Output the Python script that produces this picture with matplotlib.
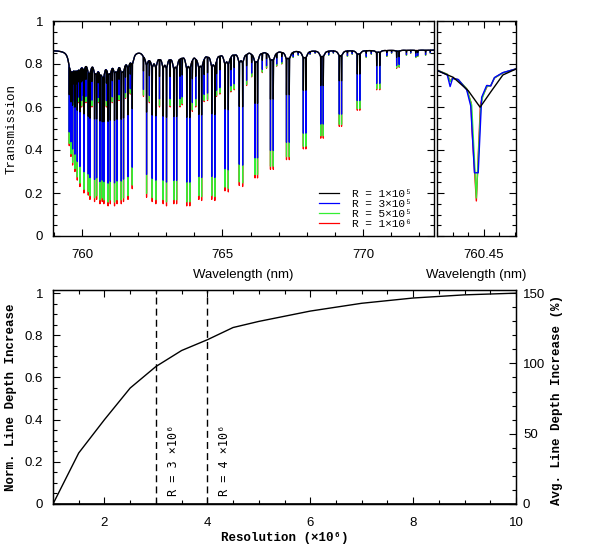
import numpy as np
import matplotlib
matplotlib.use('Agg')
import matplotlib.pyplot as plt
from matplotlib.ticker import MultipleLocator, FuncFormatter, FixedLocator

# ----------------------------
# Data
# ----------------------------
continuum = 0.865

# R branch: line centre (nm), minimum transmission at R = 1e6
rbranch_wl = [759.549, 759.580, 759.609, 759.640, 759.668, 759.710, 759.751, 759.790,
              759.834, 759.880, 759.929, 759.988, 760.030, 760.071, 760.142, 760.225,
              760.285, 760.356, 760.449, 760.522, 760.581, 760.641, 760.724, 760.780,
              760.870, 760.930, 761.010, 761.080, 761.160, 761.250, 761.320, 761.400,
              761.480, 761.550, 761.640, 761.720, 761.790]
rbranch_tmin = [0.42, 0.47, 0.37, 0.56, 0.33, 0.60, 0.30, 0.60,
                0.26, 0.62, 0.23, 0.60, 0.63, 0.20, 0.62, 0.19,
                0.17, 0.60, 0.16, 0.17, 0.62, 0.15, 0.16, 0.15,
                0.60, 0.14, 0.15, 0.62, 0.14, 0.15, 0.63, 0.15,
                0.16, 0.64, 0.17, 0.66, 0.22]

# P branch: line centre (nm), minimum transmission at R = 1e6
pbranch_wl = [762.19, 762.30, 762.40, 762.50, 762.63, 762.76, 762.89, 763.01, 763.14,
              763.27, 763.37, 763.49, 763.57, 763.73, 763.84, 763.93, 764.05, 764.16,
              764.26, 764.35, 764.47, 764.62, 764.73, 764.79, 764.91, 765.09, 765.21,
              765.30, 765.42, 765.60, 765.72, 765.86, 766.04, 766.16, 766.25, 766.42,
              766.57, 766.71, 766.81, 766.93, 767.11, 767.28, 767.38, 767.52, 767.70,
              767.88, 767.97, 768.12, 768.30, 768.50, 768.59, 768.78, 768.95, 769.16,
              769.24, 769.45, 769.62, 769.80, 769.89, 770.12, 770.30, 770.49, 770.60,
              770.85, 771.02, 771.20, 771.29, 771.55, 771.70, 771.88, 771.95, 772.23,
              772.40]
pbranch_tmin = [0.65, 0.18, 0.62, 0.16, 0.15, 0.60, 0.15, 0.14, 0.60,
                0.15, 0.15, 0.60, 0.61, 0.14, 0.14, 0.58, 0.60, 0.17,
                0.165, 0.625, 0.63, 0.17, 0.165, 0.65, 0.66, 0.21, 0.205,
                0.67, 0.68, 0.235, 0.23, 0.70, 0.74, 0.27, 0.27, 0.76,
                0.78, 0.31, 0.31, 0.79, 0.80, 0.355, 0.355, 0.83, 0.84,
                0.405, 0.405, 0.845, 0.85, 0.455, 0.455, 0.84, 0.85, 0.51,
                0.51, 0.835, 0.845, 0.585, 0.585, 0.83, 0.845, 0.68, 0.68,
                0.835, 0.85, 0.78, 0.785, 0.84, 0.85, 0.83, 0.835, 0.84,
                0.85]

resolutions = [1e5, 3e5, 5e5, 1e6]
res_labels = ['R = 1×10⁵', 'R = 3×10⁵', 'R = 5×10⁵', 'R = 1×10⁶']
res_colors = ['black', '#0000ff', '#33ee33', '#ff0000']

# zoom on the 760.45 nm line, sampled spectra per resolution
zoom_wl_1e5 = [760.4340, 760.4402, 760.4450, 760.4488, 760.4523, 760.4561, 760.4605]
zoom_t_1e5 = [0.776, 0.738, 0.676, 0.599, 0.672, 0.749, 0.778]
zoom_wl_3e5 = [760.4340, 760.4383, 760.4392, 760.4400, 760.4418, 760.4445, 760.4458,
               760.4470, 760.4482, 760.4493, 760.4509, 760.4522, 760.4534, 760.4561, 760.4605]
zoom_t_3e5 = [0.778, 0.749, 0.695, 0.733, 0.728, 0.680, 0.605,
              0.294, 0.294, 0.645, 0.700, 0.698, 0.737, 0.760, 0.778]
zoom_wl_5e5 = [760.4340, 760.4383, 760.4392, 760.4400, 760.4418, 760.4445, 760.4461,
               760.4476, 760.4490, 760.4496, 760.4509, 760.4522, 760.4534, 760.4561, 760.4605]
zoom_t_5e5 = [0.778, 0.752, 0.718, 0.733, 0.727, 0.685, 0.610,
              0.177, 0.600, 0.645, 0.695, 0.700, 0.735, 0.759, 0.778]
zoom_wl_1e6 = [760.4340, 760.4383, 760.4392, 760.4400, 760.4418, 760.4445, 760.4459,
               760.4462, 760.4476, 760.4489, 760.4496, 760.4512, 760.4522, 760.4534,
               760.4561, 760.4605]
zoom_t_1e6 = [0.778, 0.752, 0.720, 0.734, 0.727, 0.685, 0.620,
              0.500, 0.163, 0.610, 0.650, 0.700, 0.698, 0.735,
              0.759, 0.778]

# lower panel
resolution = [1, 1.5, 2, 2.5, 3, 3.5, 4, 4.5, 5, 6, 7, 8, 9, 10]
norm_increase = [0, 0.242, 0.40, 0.55, 0.652, 0.728, 0.779, 0.837, 0.866,
                 0.915, 0.952, 0.977, 0.992, 1.0]
marked_res = [3, 4]
marked_labels = ['R = 3 ×10⁶', 'R = 4 ×10⁶']

# ----------------------------
# Build spectra from the line list
# ----------------------------
step = 0.0002
wl = np.arange(758.8, 772.7, step)
core_w = 0.0016      # half width of the (saturated, flat bottomed) line core
wing_g = 0.06
wing_k = 0.04

line_wl = np.array(rbranch_wl + pbranch_wl)
line_tmin = np.array(rbranch_tmin + pbranch_tmin)

wing_amp = wing_k * -np.log(line_tmin / continuum)
wing_tau = np.zeros_like(wl)
for c, a in zip(line_wl, wing_amp):
    wing_tau += a * wing_g**2 / ((wl - c)**2 + wing_g**2)
local = continuum * np.exp(-np.interp(line_wl, wl, wing_tau))


def core(dx):
    return np.exp(-(np.abs(dx) / core_w)**8)


def kernel(R):
    s = 765.0 / R / 2.3548
    half = int(np.ceil(5 * s / step))
    x = np.arange(-half, half + 1) * step
    k = np.exp(-0.5 * (x / s)**2)
    return x, k / k.sum()


kx, kk = kernel(1e6)
f_red = np.sum(kk * core(kx))
depth = np.clip((1 - line_tmin / local) / f_red, 0, 0.97)

intrinsic = continuum * np.exp(-wing_tau)
for c, d in zip(line_wl, depth):
    intrinsic *= 1 - d * core(wl - c)

spectra = []
for R in resolutions:
    kx, kk = kernel(R)
    half = (len(kk) - 1) // 2
    padded = np.pad(intrinsic, half, mode='edge')
    spectra.append(np.convolve(padded, kk, mode='valid'))

# ----------------------------
# Figure
# ----------------------------
plt.rcParams['font.family'] = ['Liberation Sans', 'DejaVu Sans']
plt.rcParams['font.size'] = 9.5
W, H = 598, 551
fig = plt.figure(figsize=(W / 100, H / 100), dpi=100)

serif = {'family': ['Liberation Mono', 'DejaVu Sans Mono'], 'size': 9}
serif_bold = dict(serif, weight='bold')
legend_font = {'family': ['Liberation Mono', 'DejaVu Sans Mono'], 'size': 8}


def box(x0, x1, y0, y1):
    return [x0 / W, 1 - y1 / H, (x1 - x0) / W, (y1 - y0) / H]


def style(ax):
    ax.tick_params(which='both', direction='in', top=True, right=True, width=0.8)
    ax.tick_params(which='major', length=5)
    ax.tick_params(which='minor', length=3)
    for sp in ax.spines.values():
        sp.set_linewidth(1.0)


fmt = FuncFormatter(lambda v, p: '%g' % round(v, 2))

ax_main = fig.add_axes(box(53, 434, 21, 236))
ax_zoom = fig.add_axes(box(437, 516, 21, 236))
ax_res = fig.add_axes(box(53, 516, 290, 504))

# main spectrum
handles = {}
for spec, lab, col in reversed(list(zip(spectra, res_labels, res_colors))):
    handles[lab], = ax_main.plot(wl, spec, color=col, lw=0.9)
ax_main.set_xlim(758.97, 772.53)
ax_main.set_ylim(0, 1)
ax_main.xaxis.set_major_locator(MultipleLocator(5))
ax_main.xaxis.set_minor_locator(MultipleLocator(1))
ax_main.yaxis.set_major_locator(MultipleLocator(0.2))
ax_main.yaxis.set_minor_locator(MultipleLocator(0.05))
ax_main.yaxis.set_major_formatter(fmt)
style(ax_main)
ax_main.tick_params(axis='x', pad=9)
ax_main.tick_params(axis='y', pad=7)
ax_main.set_xlabel('Wavelength (nm)', labelpad=6)
ax_main.legend([handles[l] for l in res_labels], res_labels, loc='lower right',
               bbox_to_anchor=(0.96, 0.0), frameon=False, prop=legend_font,
               handlelength=1.8, handletextpad=1.2, labelspacing=0.0,
               borderaxespad=0.2)
fig.text(12 / W, 1 - 128.5 / H, 'Transmission', rotation=90, ha='center',
         va='center', fontdict=serif)

# zoom panel
zoom_data = [(zoom_wl_1e5, zoom_t_1e5), (zoom_wl_3e5, zoom_t_3e5),
             (zoom_wl_5e5, zoom_t_5e5), (zoom_wl_1e6, zoom_t_1e6)]
for (zx, zy), col in reversed(list(zip(zoom_data, res_colors))):
    ax_zoom.plot(zx, zy, color=col, lw=1.0)
ax_zoom.set_xlim(760.435, 760.4603)
ax_zoom.set_ylim(0, 1)
ax_zoom.xaxis.set_major_locator(FixedLocator([760.45]))
ax_zoom.xaxis.set_major_formatter(FuncFormatter(lambda v, p: '%.2f' % v))
ax_zoom.xaxis.set_minor_locator(FixedLocator([760.435, 760.440, 760.445, 760.455, 760.460]))
ax_zoom.yaxis.set_major_locator(MultipleLocator(0.2))
ax_zoom.yaxis.set_minor_locator(MultipleLocator(0.05))
ax_zoom.set_yticklabels([])
style(ax_zoom)
ax_zoom.tick_params(axis='x', pad=9)
ax_zoom.set_xlabel('Wavelength (nm)', labelpad=6)

# resolution panel
ax_res.plot(resolution, norm_increase, color='black', lw=1.0)
ax_res.axhline(0, color='black', lw=1.2)
for r, lab in zip(marked_res, marked_labels):
    ax_res.axvline(r, color='black', lw=1.0, ls=(0, (5, 3)))
    ax_res.text(r + 0.34, 0.04, lab, rotation=90, ha='center', va='bottom',
                family=['DejaVu Sans Mono'], fontsize=8.5)
ax_res.set_xlim(1, 10)
ax_res.set_ylim(0, 1.015)
ax_res.xaxis.set_major_locator(MultipleLocator(2))
ax_res.xaxis.set_minor_locator(MultipleLocator(0.5))
ax_res.yaxis.set_major_locator(MultipleLocator(0.2))
ax_res.yaxis.set_minor_locator(MultipleLocator(0.05))
ax_res.yaxis.set_major_formatter(fmt)
style(ax_res)
ax_res.tick_params(right=False, which='both')
ax_res.tick_params(axis='x', pad=9)
ax_res.tick_params(axis='y', pad=7)

ax_pct = ax_res.twinx()
ax_pct.set_ylim(0, 1.015 * 150)
ax_pct.yaxis.set_major_locator(MultipleLocator(50))
ax_pct.yaxis.set_minor_locator(MultipleLocator(10))
ax_pct.tick_params(which='both', direction='in', width=0.8, pad=5)
ax_pct.tick_params(which='major', length=5)
ax_pct.tick_params(which='minor', length=3)

fig.text(285 / W, 1 - 538 / H, 'Resolution (×10⁶)', ha='center', va='center',
         fontdict=serif_bold)
fig.text(11 / W, 1 - 397 / H, 'Norm. Line Depth Increase', rotation=90,
         ha='center', va='center', fontdict=serif_bold)
fig.text(557 / W, 1 - 400 / H, 'Avg. Line Depth Increase (%)', rotation=90,
         ha='center', va='center', fontdict=serif_bold)

fig.savefig('out.png', dpi=100)
